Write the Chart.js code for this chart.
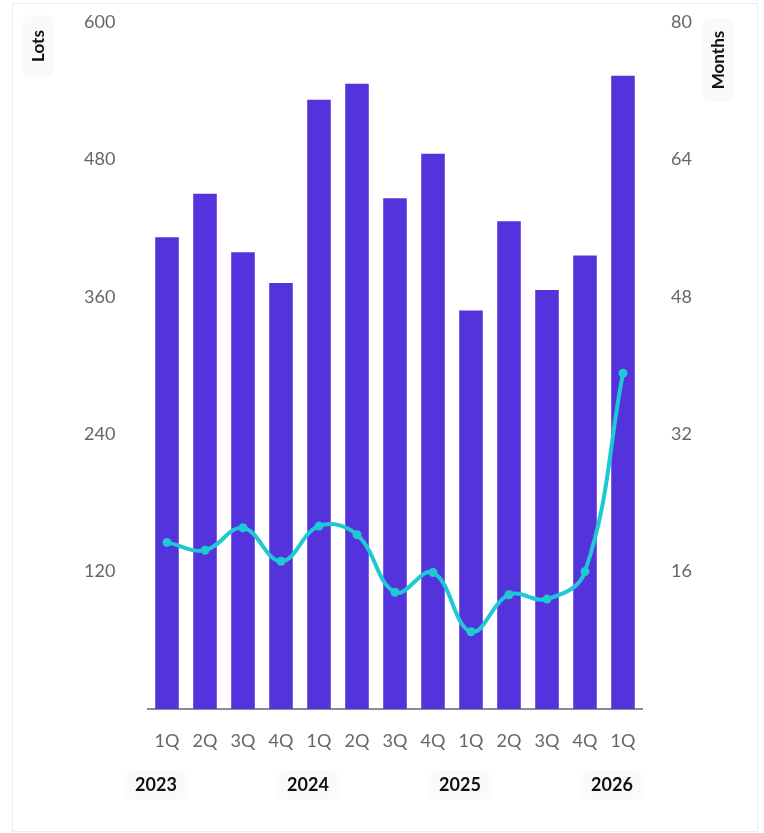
<!DOCTYPE html>
<html>
<head>
<meta charset="utf-8">
<script src="https://cdn.jsdelivr.net/npm/chart.js@4.4.1/dist/chart.umd.min.js"></script>
<style>
  html, body { margin: 0; padding: 0; background: #fff; }
  #wrap { position: relative; width: 764px; height: 833px; }
  #frame {
    position: absolute; left: 12px; top: 3px; width: 746px; height: 829px;
    border: 1px solid #ececec; box-sizing: border-box; pointer-events: none;
  }
</style>
</head>
<body>
<div id="wrap">
  <canvas id="chart" width="764" height="833"></canvas>
  <div id="frame"></div>
</div>
<script>
const quarters = ['1Q', '2Q', '3Q', '4Q', '1Q', '2Q', '3Q', '4Q', '1Q', '2Q', '3Q', '4Q', '1Q'];
const years = ['2023', '', '', '', '2024', '', '', '', '2025', '', '', '', '2026'];
const lots = [412, 450, 399, 372, 532, 546, 446, 485, 348, 426, 366, 396, 553];
const months = [19.4, 18.5, 21.1, 17.2, 21.3, 20.3, 13.6, 15.9, 9.0, 13.3, 12.8, 16.0, 39.1];
const lotsRange = [0, 600, 120];
const monthsRange = [0, 80, 16];

const FONT = 'Lato, "Open Sans", sans-serif';
const BAR = '#5433dd';
const LINE = '#1fc9d4';

function roundRect(ctx, x, y, w, h, r) {
  ctx.beginPath();
  ctx.moveTo(x + r, y);
  ctx.arcTo(x + w, y, x + w, y + h, r);
  ctx.arcTo(x + w, y + h, x, y + h, r);
  ctx.arcTo(x, y + h, x, y, r);
  ctx.arcTo(x, y, x + w, y, r);
  ctx.closePath();
}

// year captions under the first quarter of each year, plus the rotated axis titles
const extraLabels = {
  id: 'extraLabels',
  afterDraw(chart) {
    const ctx = chart.ctx;
    const xs = chart.scales.x;
    ctx.save();
    ctx.font = 'bold 18px ' + FONT;
    ctx.textAlign = 'center';
    ctx.textBaseline = 'middle';
    years.forEach((yr, i) => {
      if (!yr) return;
      const x = xs.getPixelForValue(i) - 11;
      const w = ctx.measureText(yr).width + 22;
      ctx.fillStyle = 'rgba(0,0,0,0.018)';
      roundRect(ctx, x - w / 2, 770, w, 30, 10);
      ctx.fill();
      ctx.fillStyle = '#111';
      ctx.fillText(yr, x, 785);
    });

    const titles = [['Lots', 38, 46, 62], ['Months', 718, 60, 84]];
    ctx.font = 'bold 17px ' + FONT;
    titles.forEach(([txt, cx, cy, len]) => {
      ctx.fillStyle = 'rgba(0,0,0,0.018)';
      roundRect(ctx, cx - 15, cy - len / 2, 30, len, 6);
      ctx.fill();
      ctx.save();
      ctx.translate(cx, cy);
      ctx.rotate(-Math.PI / 2);
      ctx.fillStyle = '#111';
      ctx.fillText(txt, 0, 1);
      ctx.restore();
    });
    ctx.restore();
  }
};

const tickFont = { family: FONT, size: 18 };

new Chart(document.getElementById('chart'), {
  data: {
    labels: quarters,
    datasets: [
      {
        type: 'line',
        data: months,
        yAxisID: 'y1',
        order: 0,
        borderColor: LINE,
        backgroundColor: LINE,
        borderWidth: 4,
        tension: 0.4,
        pointRadius: 4.5,
        pointBackgroundColor: LINE,
        pointBorderWidth: 0
      },
      {
        type: 'bar',
        data: lots,
        yAxisID: 'y',
        order: 1,
        backgroundColor: BAR,
        categoryPercentage: 1,
        barPercentage: 0.62
      }
    ]
  },
  options: {
    responsive: false,
    animation: false,
    // tick labels sit at the outer edge of each y axis (crossAlign 'far'),
    // so the side padding places them and the axis widths set the plot edges
    layout: { padding: { top: 22, left: 84, right: 72, bottom: 0 } },
    plugins: {
      legend: { display: false },
      tooltip: { enabled: false }
    },
    scales: {
      x: {
        grid: { display: false, drawTicks: false },
        border: { display: true, color: '#8c8c8c', width: 2 },
        ticks: { font: tickFont, color: '#666', padding: 21, maxRotation: 0, autoSkip: false },
        afterFit(scale) { scale.height = 124; }
      },
      y: {
        position: 'left',
        min: lotsRange[0],
        max: lotsRange[1],
        grid: { display: false, drawTicks: false },
        border: { display: false },
        ticks: {
          stepSize: lotsRange[2],
          font: tickFont,
          color: '#666',
          padding: 0,
          crossAlign: 'far',
          callback: v => (v === 0 ? '' : v)
        },
        afterFit(scale) { scale.width = 64; }
      },
      y1: {
        position: 'right',
        min: monthsRange[0],
        max: monthsRange[1],
        grid: { display: false, drawTicks: false },
        border: { display: false },
        ticks: {
          stepSize: monthsRange[2],
          font: tickFont,
          color: '#666',
          padding: 0,
          crossAlign: 'far',
          callback: v => (v === 0 ? '' : v)
        },
        afterFit(scale) { scale.width = 50; }
      }
    }
  },
  plugins: [extraLabels]
});
</script>
</body>
</html>
